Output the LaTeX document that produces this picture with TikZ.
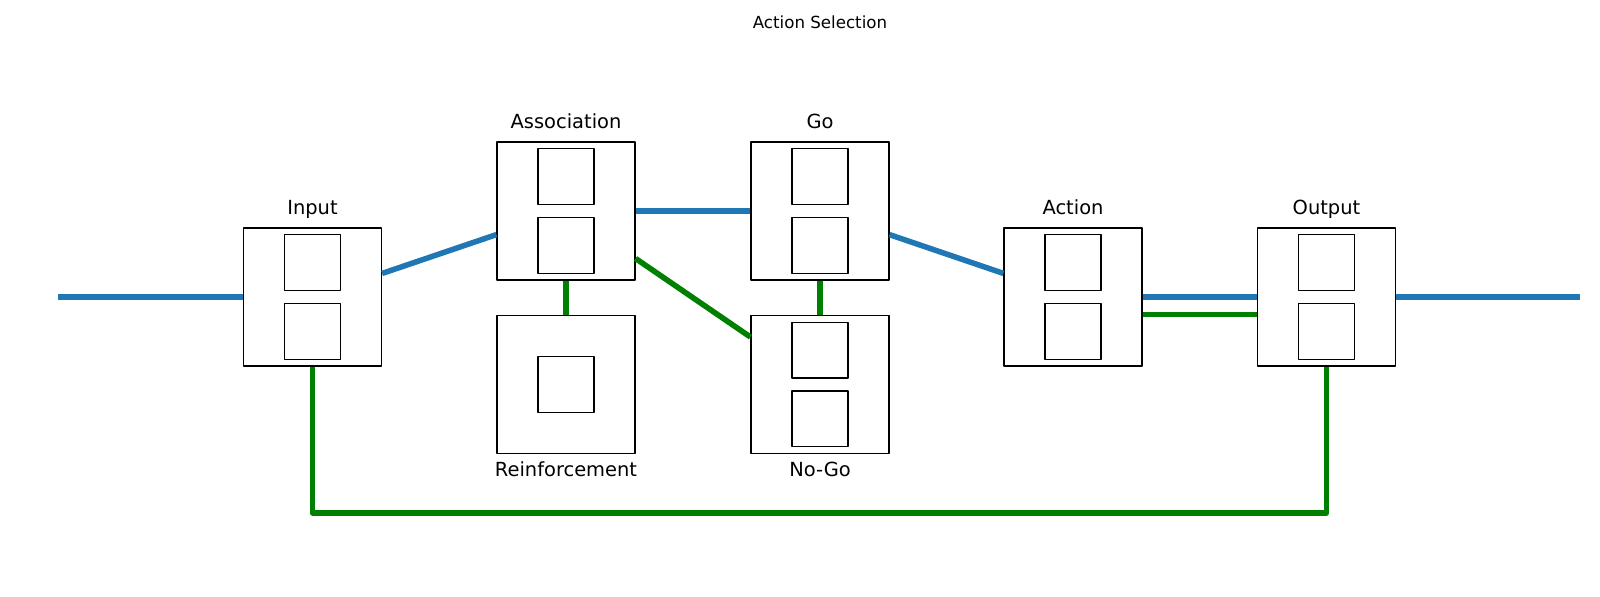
\documentclass[tikz,border=0pt]{standalone}
\usepackage{fontspec}
\setmainfont{DejaVu Sans}
\usetikzlibrary{positioning}
\definecolor{linkblue}{HTML}{1F77B4}
\definecolor{linkgreen}{HTML}{008000}

\begin{document}
\begin{tikzpicture}[
		x=0.72pt,
		y=-0.72pt,
		line join=round,
		module/.style={draw=black,fill=white,line width=0.8pt,minimum size=99.4pt,inner sep=0pt},
		cell/.style={draw=black,line width=0.8pt,minimum size=40.3pt,inner sep=0pt},
		modlabel/.style={font=\fontsize{14}{16}\selectfont,anchor=base},
		bluelink/.style={line width=4pt,draw=linkblue},
		greenlink/.style={line width=4pt,draw=linkgreen}
	]
	\useasboundingbox (0,0) rectangle (1600,596);
	
	% Title
	\node[font=\fontsize{12}{14}\selectfont,anchor=base] (title) at (820,28) {Action Selection};
	
	% Modules
	\node[module] (inp)  at (312.5,297) {};
	\node[module] (asc)  at (566,211) {};
	\node[module] (rein) at (566,384.5) {};
	\node[module] (go)   at (820,211) {};
	\node[module] (nogo) at (820,384.5) {};
	\node[module] (act)  at (1073,297) {};
	\node[module] (out)  at (1326.5,297) {};
	
	% Inner cells
	\foreach \m in {inp,asc,go,nogo,act,out} {
		\node[cell] (\m-a) at ([yshift=24.8pt]\m.center) {};
		\node[cell] (\m-b) at ([yshift=-24.8pt]\m.center) {};
	}
	\node[cell] (rein-a) at (rein.center) {};
	
	% Module names
	\node[modlabel] (inp-name)  at ([yshift=9pt]inp.north) {Input};
	\node[modlabel] (asc-name)  at ([yshift=9pt]asc.north) {Association};
	\node[modlabel] (go-name)   at ([yshift=9pt]go.north) {Go};
	\node[modlabel] (act-name)  at ([yshift=9pt]act.north) {Action};
	\node[modlabel] (out-name)  at ([yshift=9pt]out.north) {Output};
	\node[modlabel] (rein-name) at ([yshift=-16.3pt]rein.south) {Reinforcement};
	\node[modlabel] (nogo-name) at ([yshift=-16.3pt]nogo.south) {No-Go};
	
	% Free ends
	\coordinate (src)  at (58,297);
	\coordinate (sink) at (1580,297);
	\coordinate (loopy) at (0,513);
	
	% Main pathway
	\draw[bluelink] (src) -- (inp);
	\draw[bluelink] (inp) -- (asc);
	\draw[bluelink] (asc) -- (go);
	\draw[bluelink] (go) -- (act);
	\draw[bluelink] (act) -- (out);
	\draw[bluelink] (out) -- (sink);
	
	% Modulatory links
	\draw[greenlink] (asc) -- (rein);
	\draw[greenlink] (go) -- (nogo);
	\draw[greenlink] (asc) -- (nogo);
	\draw[greenlink] ([yshift=-12.6pt]act.east) -- ([yshift=-12.6pt]out.west);
	\draw[greenlink] (inp.south) -- (inp.south |- loopy) -- (out.south |- loopy) -- (out.south);
	
\end{tikzpicture}
\end{document}
